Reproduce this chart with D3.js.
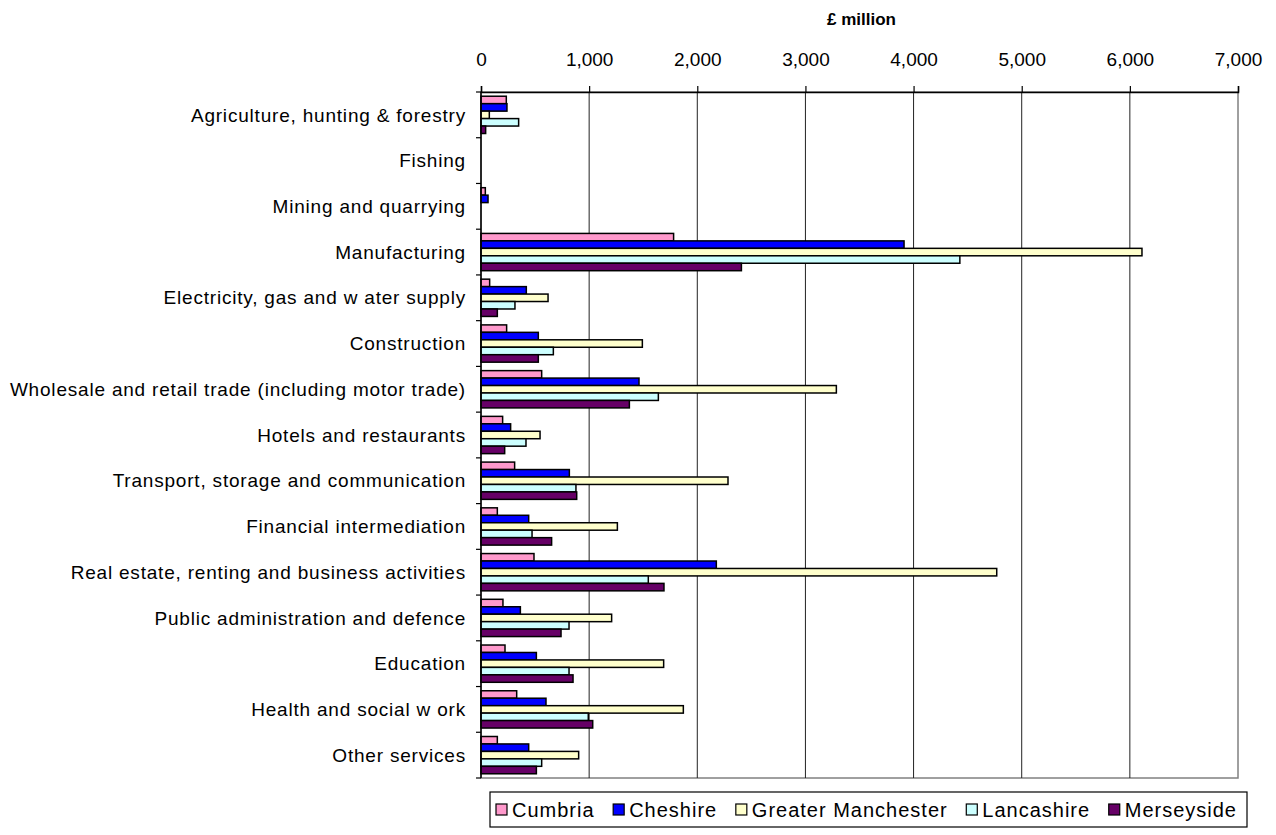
<!DOCTYPE html>
<html>
<head>
<meta charset="utf-8">
<script src="https://cdn.jsdelivr.net/npm/d3@7"></script>
<style>
  body { margin: 0; background: #fff; }
  svg { font-family: "Liberation Sans", Arial, sans-serif; }
</style>
</head>
<body>
<div class="d3-container"></div>
<script>
const categories = [
  "Agriculture, hunting & forestry",
  "Fishing",
  "Mining and quarrying",
  "Manufacturing",
  "Electricity, gas and w ater supply",
  "Construction",
  "Wholesale and retail trade (including motor trade)",
  "Hotels and restaurants",
  "Transport, storage and communication",
  "Financial intermediation",
  "Real estate, renting and business activities",
  "Public administration and defence",
  "Education",
  "Health and social w ork",
  "Other services"
];

const seriesNames = ["Cumbria", "Cheshire", "Greater Manchester", "Lancashire", "Merseyside"];
const seriesColors = ["#FF99CC", "#0000FF", "#FFFFCC", "#CCFFFF", "#660066"];

const cumbria     = [234, 0, 40, 1781, 80, 237, 561, 200, 311, 151, 490, 203, 222, 330, 151];
const cheshire    = [240, 0, 65, 3912, 419, 530, 1461, 274, 817, 441, 2176, 364, 512, 601, 441];
const greaterManc = [77, 0, 0, 6112, 620, 1492, 3286, 546, 2284, 1261, 4769, 1208, 1689, 1871, 903];
const lancashire  = [348, 0, 0, 4428, 314, 669, 1640, 416, 878, 472, 1547, 814, 814, 992, 561];
const merseyside  = [43, 0, 0, 2408, 151, 530, 1372, 219, 885, 653, 1692, 740, 851, 1033, 512];

const seriesValues = [cumbria, cheshire, greaterManc, lancashire, merseyside];
const xTicks = [0, 1000, 2000, 3000, 4000, 5000, 6000, 7000];

const width = 1276;
const height = 835;
const margin = {top: 92, bottom: 57, left: 481, right: 38};

const svg = d3.select(".d3-container")
  .append("svg")
  .attr("width", width)
  .attr("height", height);

const x = d3.scaleLinear()
  .domain([0, 7000])
  .range([margin.left, width - margin.right]);

const y = d3.scaleBand()
  .domain(categories)
  .range([margin.top, height - margin.bottom])
  .paddingInner(0.185)
  .paddingOuter(0.0925);

const ySeries = d3.scaleBand()
  .domain(seriesNames)
  .range([0, y.bandwidth()]);

// plot area border (grey) and gridlines
svg.append("rect")
  .attr("x", x(0))
  .attr("y", margin.top)
  .attr("width", x(7000) - x(0))
  .attr("height", height - margin.bottom - margin.top)
  .attr("fill", "none")
  .attr("stroke", "#808080")
  .attr("stroke-width", 1.5);

svg.append("g")
  .selectAll("line")
  .data(xTicks.slice(1, -1))
  .join("line")
  .attr("x1", d => x(d)).attr("x2", d => x(d))
  .attr("y1", margin.top).attr("y2", height - margin.bottom)
  .attr("stroke", "#222")
  .attr("stroke-width", 1);

// bars
const rows = categories.map((c, i) => ({cat: c, vals: seriesValues.map((s, j) => ({name: seriesNames[j], color: seriesColors[j], v: s[i]}))}));

svg.append("g")
  .selectAll("g")
  .data(rows)
  .join("g")
  .attr("transform", d => `translate(0, ${y(d.cat)})`)
  .selectAll("rect")
  .data(d => d.vals.filter(v => v.v > 0))
  .join("rect")
  .attr("x", x(0))
  .attr("y", d => ySeries(d.name))
  .attr("width", d => x(d.v) - x(0))
  .attr("height", ySeries.bandwidth())
  .attr("fill", d => d.color)
  .attr("stroke", "#000")
  .attr("stroke-width", 1.5);

// top axis
const xAxis = svg.append("g")
  .attr("transform", `translate(0, ${margin.top})`)
  .call(d3.axisTop(x).tickValues(xTicks).tickFormat(d3.format(",")).tickSize(6).tickPadding(20));
xAxis.select(".domain").attr("stroke", "#000").attr("stroke-width", 1.5);
xAxis.selectAll(".tick line").attr("stroke-width", 1.2);
xAxis.selectAll("text").attr("font-size", 19).attr("fill", "#000").attr("font-family", "Liberation Sans, Arial, sans-serif");

// left axis
const boundaries = categories.map((c, i) => y(c) - y.step() * y.paddingInner() / 2).concat([height - margin.bottom]);
svg.append("line")
  .attr("x1", x(0)).attr("x2", x(0))
  .attr("y1", margin.top).attr("y2", height - margin.bottom)
  .attr("stroke", "#000").attr("stroke-width", 1.5);
svg.append("g")
  .selectAll("line")
  .data(boundaries)
  .join("line")
  .attr("x1", x(0) - 5).attr("x2", x(0))
  .attr("y1", d => d).attr("y2", d => d)
  .attr("stroke", "#000").attr("stroke-width", 1.2);

svg.append("g")
  .selectAll("text")
  .data(categories)
  .join("text")
  .attr("x", x(0) - 15)
  .attr("y", d => y(d) + y.bandwidth() / 2)
  .attr("dy", "0.35em")
  .attr("text-anchor", "end")
  .attr("font-size", 19)
  .attr("letter-spacing", 0.8)
  .text(d => d);

// axis title
svg.append("text")
  .attr("x", (x(0) + x(7000)) / 2 + 2)
  .attr("y", 25)
  .attr("text-anchor", "middle")
  .attr("font-size", 17)
  .attr("font-weight", "bold")
  .text("£ million");

// legend: items flowed across the box
const legend = svg.append("g").attr("transform", "translate(490, 792)");
legend.append("rect")
  .attr("width", 757).attr("height", 35)
  .attr("fill", "#fff").attr("stroke", "#000").attr("stroke-width", 1.2);

const items = legend.selectAll("g")
  .data(seriesNames)
  .join("g");
items.append("rect")
  .attr("x", 0).attr("y", 12)
  .attr("width", 11).attr("height", 11)
  .attr("fill", (d, i) => seriesColors[i])
  .attr("stroke", "#000").attr("stroke-width", 1.2);
items.append("text")
  .attr("x", 16).attr("y", 18)
  .attr("dy", "0.35em")
  .attr("font-size", 20)
  .attr("letter-spacing", 1)
  .text(d => d);

const widths = [];
items.each(function() { widths.push(16 + d3.select(this).select("text").node().getComputedTextLength()); });
const gap = (741 - d3.sum(widths)) / (widths.length - 1);
let pos = 6;
items.each(function(d, i) {
  d3.select(this).attr("transform", `translate(${pos}, 0)`);
  pos += widths[i] + gap;
});

svg.node();
</script>
</body>
</html>
